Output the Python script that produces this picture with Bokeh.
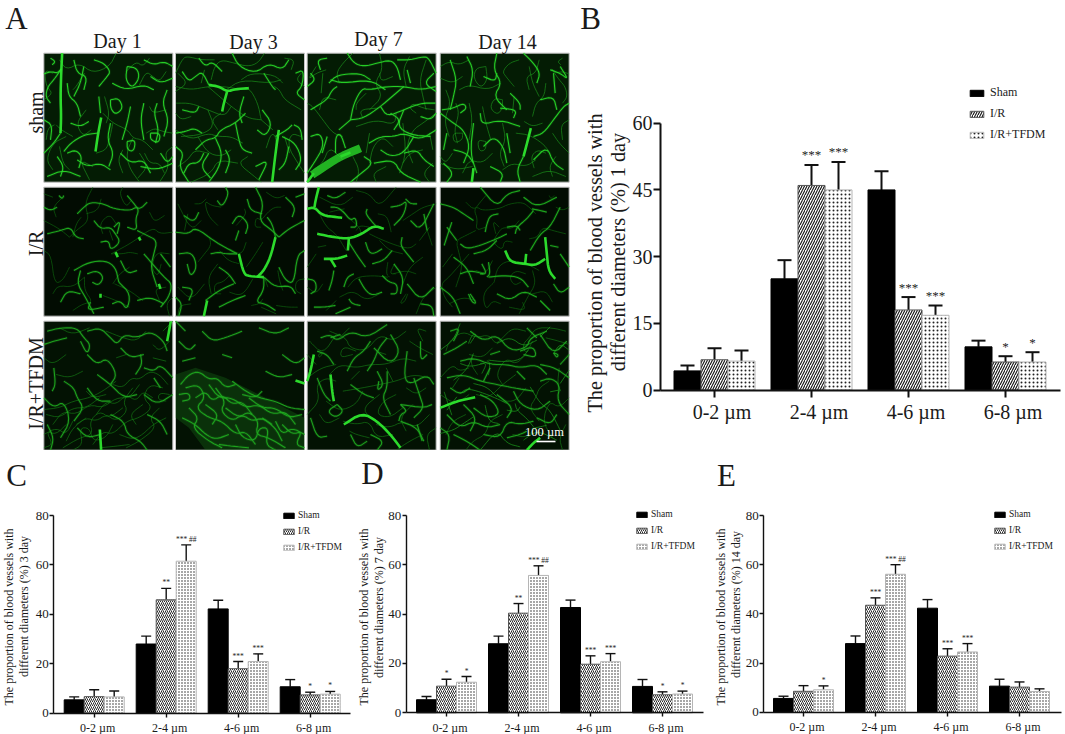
import math
from bokeh.plotting import figure
from bokeh.layouts import row, column
from bokeh.models import (ColumnDataSource, Range1d, LinearAxis, FixedTicker, Whisker, TeeHead,
                          Label, Legend, LegendItem)
from bokeh.core.properties import value
from bokeh.embed import file_html
from bokeh.resources import INLINE

FONT = "Liberation Serif"
GROUPS = ["0-2 µm", "2-4 µm", "4-6 µm", "6-8 µm"]
SERIES = ["Sham", "I/R", "I/R+TFDM"]
DAYS = ["Day 1", "Day 3", "Day 7", "Day 14"]
ROWS = ["sham", "I/R", "I/R+TFDM"]

# ---- bar values: mean and top of error bar, one list per series per chart
B_SHAM = [4.3, 25.0, 45.0, 9.7];   B_SHAM_TOP = [5.5, 29.2, 49.2, 11.1]
B_IR = [6.8, 46.0, 18.0, 6.3];     B_IR_TOP = [9.4, 50.6, 20.9, 7.6]
B_TF = [6.5, 45.0, 16.8, 6.3];     B_TF_TOP = [8.9, 51.3, 19.0, 8.5]
B_SIG_IR = ["", "***", "***", "*"]; B_SIG_TF = ["", "***", "***", "*"]

C_SHAM = [5.4, 28.0, 42.2, 10.7];  C_SHAM_TOP = [6.6, 31.2, 45.7, 13.6]
C_IR = [6.7, 45.9, 18.0, 7.4];     C_IR_TOP = [9.5, 50.5, 20.9, 8.5]
C_TF = [6.6, 61.5, 20.9, 7.7];     C_TF_TOP = [9.0, 68.1, 24.0, 8.8]
C_SIG_IR = ["", "**", "***", "*"]; C_SIG_TF = ["", "*** ##", "***", "*"]

D_SHAM = [5.3, 28.0, 42.7, 10.7];  D_SHAM_TOP = [6.6, 31.1, 45.7, 13.5]
D_IR = [10.8, 40.4, 19.7, 7.3];    D_IR_TOP = [13.6, 44.3, 23.1, 8.5]
D_TF = [12.4, 55.7, 20.7, 7.6];    D_TF_TOP = [14.7, 59.6, 24.0, 8.8]
D_SIG_IR = ["*", "**", "***", "*"]; D_SIG_TF = ["*", "*** ##", "***", "*"]

E_SHAM = [5.6, 27.9, 42.3, 10.6];  E_SHAM_TOP = [6.5, 31.0, 45.8, 13.4]
E_IR = [8.5, 43.5, 22.8, 10.2];    E_IR_TOP = [10.8, 46.5, 25.8, 12.3]
E_TF = [9.1, 56.1, 24.5, 8.4];     E_TF_TOP = [10.7, 60.0, 27.9, 9.5]
E_SIG_IR = ["", "***", "***", ""]; E_SIG_TF = ["*", "*** ##", "***", ""]

# ---- traced vessels per micrograph: flat x,y lists in a 387 x 387 image space
V11_THICK = [[55,0,52,60,50,130,52,190,50,240],[172,193,163,240,155,295]]
V11 = [[0,62,22,55,40,60,52,48],[52,48,30,80,12,100,5,130,20,150],[20,15,35,25,25,35],
 [150,20,180,30,200,55,190,70,165,100],[250,40,280,45,287,75,265,105,245,80,250,40],
 [300,20,330,35,360,25,387,40],[200,140,225,135,238,165,215,185,200,165,200,140],[165,130,170,180],
 [340,150,330,180,345,230,335,270],[300,150,290,200,300,260],[260,160,250,210,235,260],
 [320,240,350,240,345,270,320,260,320,240],[250,265,275,260,270,295,250,290,250,265],
 [0,300,30,270,50,240],[40,310,60,340,50,370],[100,320,130,340,170,330,200,350],
 [230,300,260,330,300,320,320,360],[10,370,60,350,110,370],[350,300,370,330,387,310],
 [70,90,75,130,100,150,110,190],[120,40,110,90,90,130],[370,110,355,150,375,200,360,250],
 [200,210,190,260,210,300,195,340],[160,240,120,245,80,270,60,295],[90,20,100,60,130,70,120,110],
 [205,90,245,110,300,95,330,110],[0,200,25,215,20,260],[80,210,110,220,135,205],
 [70,300,95,290,115,310,105,345],[290,340,340,350,387,330],[320,70,350,90,387,75]]

V12_THICK = [[155,115,145,150,140,175],[310,230,300,300,290,387],[100,95,130,100,155,115,180,108,220,105]]
V12 = [[20,55,40,85,60,70,80,55,100,95],[70,15,90,40,110,25,140,55],[170,0,190,40,240,60,280,30,320,50,340,20],
 [360,60,385,50,380,100,360,120,387,140],[265,60,290,100,300,110],[20,170,60,180,70,160],
 [0,240,30,235,55,225,80,240],[0,280,25,300,10,340,40,387],[60,290,90,260,120,255,135,230,180,210,210,180],
 [120,255,140,300,130,345,100,387],[180,210,190,260,200,290,230,300],[205,130,190,180,200,210],
 [150,290,165,320,150,360],[320,250,360,270,380,320,360,350],[300,250,335,230,350,215],
 [340,280,330,330,310,350],[240,340,280,320,250,380],[25,360,40,330,70,330,85,300],
 [260,170,290,210,270,250,245,230],[100,300,75,340,105,375],[355,215,375,225,380,260]]

V13_WIDE = [[15,365,60,335,100,310,160,285]]
V13_THICK = [[0,387,20,360],[100,310,130,298]]
V13 = [[60,15,30,20,40,50],[120,0,140,30,170,40,210,30,250,20,270,40,280,80],[270,20,310,20,350,10,365,15,387,60],
 [65,90,90,65,160,60,190,80],[70,80,105,90,190,80,235,110],[10,170,60,140,75,110,90,100],
 [130,200,140,150,165,105,185,110,240,100,290,100,340,110,387,100],[130,200,170,195,220,160,255,130,290,100],
 [95,230,130,200],[220,160,240,190,290,170,340,150,385,150],[290,170,270,220,310,245,370,250],
 [185,270,220,250,260,250,290,240,340,260,387,230],[115,285,100,240,85,250,85,300],
 [170,310,200,330,150,370,130,387],[200,330,260,320,280,360,340,387],[290,300,330,290,350,320,380,340],
 [10,250,40,240,50,280,20,330,0,360],[250,180,280,200,260,230],[220,290,250,310,290,300,320,250],
 [340,190,370,200,387,180],[380,60,350,90,387,115],[0,100,25,80,10,60],[60,250,45,300],[300,50,310,90]]

V14_THICK = [[272,225,262,265,250,310],[95,387,100,345]]
V14 = [[30,20,50,80,40,130,30,170],[80,10,100,50,90,100],[130,70,165,85,170,60],
 [170,0,160,50,185,90,160,130,200,170],[250,0,280,30,300,60,290,90],[330,50,360,60,385,80,360,40],
 [5,170,40,165,70,150,80,165,60,180],[0,180,40,210,70,230,90,280,70,330],[100,210,90,300,110,360],
 [120,180,125,215,180,200,240,220],[180,165,230,170,220,195],[210,120,240,150,240,170],
 [40,290,80,300,100,330],[250,310,230,350,240,387],[280,250,310,240,340,200,370,160,387,150],
 [130,280,160,250,190,280,200,330],[280,320,320,280,340,330,370,350],[10,330,40,360,20,387],
 [150,340,190,360,180,387],[340,60,345,120],[300,140,340,130,350,170],[200,240,210,300],[20,240,10,290]]

V21_THICK = [[215,195,222,210],[170,320,170,332],[345,290,350,305],[285,150,290,160]]
V21 = [[45,25,55,35,60,25],[100,80,120,60,140,45,180,50,210,65,260,70,275,60,290,65,310,45],
 [250,25,275,55,285,70,275,95,280,130,250,120],[150,100,170,125,200,120,215,140,230,165,200,190,195,160,170,165],
 [230,220,250,260,280,250],[280,130,310,145,340,160,330,200,320,240,340,300],
 [10,140,50,130,80,120,95,150,120,155],[210,120,230,100,220,140],[90,250,135,225,185,220,215,240,225,285],
 [110,250,100,290,125,330,150,380],[130,260,160,250,180,270,165,295,145,285],[50,345,70,310,110,320],
 [225,285,260,320,250,370,230,340,205,350],[300,200,360,270,385,290,375,330,350,360],[350,200,380,240],
 [0,60,20,70,40,60],[140,345,130,370,180,360],[280,340,320,330,360,350]]

V22_THICK = [[85,387,95,340],[190,200,205,260,220,267,265,270],[300,150,285,210,265,250,245,270]]
V22 = [[0,135,40,140,60,120,120,165,185,200],[25,85,55,105,70,75],[10,200,50,195,65,240,45,270,35,230],
 [105,200,130,195,150,200,185,200],[125,40,140,60,160,20,150,0],[215,35,225,70,260,80],
 [170,110,190,80,220,110,210,140],[240,0,265,50,250,100,290,130,310,150],[310,150,340,125,387,100],
 [300,150,290,110,275,90],[330,30,360,60,350,90],[387,190,365,205,355,290,330,280,310,240],
 [265,270,265,310,240,345,270,350,300,370],[265,270,300,300,345,295,360,320],[175,290,130,310,90,340],
 [20,300,55,305,40,340],[130,240,160,260,180,290],[180,160,190,130],[360,30,387,20],[0,330,20,350,10,387],
 [130,360,170,340,210,325]]

V23_THICK = [[35,0,25,40,22,60],[0,65,22,60,45,85,90,90,105,92],[30,140,80,150,125,155,165,140,200,115,230,125],
 [125,155,122,190],[50,215,90,215,120,205],[70,215,85,240]]
V23 = [[180,65,175,80,200,110,205,115],[70,60,90,60,110,75,130,100,145,90,150,120,130,120],[60,25,85,35,115,15],
 [295,35,310,50,330,50],[250,60,280,55,300,40,290,85,260,115],[20,360,50,360,85,355],
 [0,275,25,280,28,310,10,320],[125,165,150,205,175,240],[175,165,185,195,200,200,225,185],
 [285,150,280,175,300,200,320,225],[195,230,230,220,255,190],[225,265,245,285,270,290,270,320,250,320],
 [110,300,120,270,140,260],[65,310,75,280,80,250],[155,275,175,310,195,325,225,315],[125,335,135,350,160,355],
 [300,290,340,340,380,300],[340,350,375,355,380,387],[350,80,360,130],[310,100,340,130,380,50],
 [260,230,290,270,280,320],[85,380,130,360]]

V24_THICK = [[315,150,320,200,325,250,345,275],[195,190,210,225,255,230,285,235,315,215],[255,230,258,200]]
V24 = [[0,50,40,60,70,80,100,100],[135,135,140,110,150,85,175,80],[35,105,20,150,12,175],
 [60,170,80,185,120,175,170,155,200,140],[100,200,140,190,170,160],[275,65,300,70,320,75],
 [280,70,260,95,230,120,225,140],[200,120,230,115,240,130],[330,175,355,180],[125,230,140,260,120,260],
 [145,225,150,260,140,270],[145,270,190,265,240,270,265,300],[60,260,90,250,130,260],
 [90,320,110,350,95,345,85,320],[40,210,80,240,100,290],[170,320,210,340,250,310,290,330],
 [340,290,360,320,387,300],[0,300,40,330,60,380],[270,190,300,140,330,120,360,60],[120,0,170,60,200,20,240,10],
 [250,30,290,60,350,30],[360,200,387,240],[20,120,50,160],[300,340,330,370]]

V31_THICK = [[172,387,168,325],[381,0,370,60]]
V31 = [[10,30,50,20,100,20,120,50,140,70,130,100,110,60],[0,70,30,60,70,50],
 [130,30,170,20,200,50,220,70,240,40,280,50,320,30,360,60,370,90],[30,140,35,190,25,210],
 [60,180,90,200,100,230,120,260,90,300],[130,100,160,130,190,110,220,160,200,190],[290,100,295,130,275,160],
 [160,160,200,190,240,230,280,220],[300,140,330,150,350,130,387,170],[0,230,30,260,60,240,80,300,50,350],
 [100,320,130,350,170,340],[200,280,240,300,250,340,290,360,310,387],[300,220,340,250,387,220],
 [310,280,350,300,370,340],[10,310,30,350,20,387],[230,80,260,110,300,100],[130,200,160,240,200,240],[350,200,330,170]]

V32_THICK = [[360,178,387,187]]
V32 = [[15,190,40,160,70,150,100,175,125,170,150,200,180,190],[10,220,40,215,45,235,20,240],
 [60,230,90,210,110,240,140,220,170,250,200,240,230,280],[120,200,150,240,135,270,170,300,200,280,230,300,260,290,290,310],
 [20,290,60,310,90,340,120,355,160,340],[180,310,200,350,240,360,250,320,280,320,270,370,300,387],
 [220,230,260,260,300,260,340,290,380,280],[320,310,350,340,380,330,360,370,387,380],[90,250,130,280,110,310],
 [200,220,240,230,260,210],[260,290,300,320,320,360],[130,370,170,375,220,380],[10,60,40,90,60,70],
 [80,30,110,60,150,50,200,30],[20,120,60,110],[140,100,170,110],[250,20,300,40,340,20],[320,100,360,130,387,110],
 [270,150,310,170,350,160],[0,0,30,30],
 [30,200,70,190,90,230,60,260,100,290,140,300,180,340,210,330,240,370],
 [100,190,130,230,170,230,210,260,250,250,290,280,330,270,360,310],
 [40,260,70,290,50,320,100,360,140,380],[150,260,190,290,220,270,250,300,240,340,280,350,330,380],
 [300,300,320,340,350,320,387,340],[170,180,210,210,250,230,300,240,340,260,387,265]]
V32_BRIGHT_X = [0,60,150,250,387,387,90,40,0]
V32_BRIGHT_Y = [160,140,170,220,290,387,387,320,290]

V33_THICK = [[110,310,165,275,210,300,250,340,280,380],[70,160,75,210,80,240],[20,100,10,150,0,180]]
V33 = [[280,250,300,270,280,280,275,300],[40,50,70,40,90,60,130,30,180,50,240,10],[70,50,100,40],
 [190,60,170,90,140,110,120,150],[240,50,215,80,200,120,180,150],[30,90,60,100,80,130],
 [210,150,230,190,210,210,215,180],[240,150,240,200,225,230,250,280],[300,90,290,170,310,190,360,160,380,190],
 [340,60,340,120,360,100],[250,40,280,90,250,130,200,80],[90,250,60,270,85,290,110,270,90,250],
 [30,170,50,220,70,240],[320,170,340,230,350,260,320,290],[280,250,350,260,375,250],[280,300,330,320,350,360],
 [130,190,170,220,200,230],[10,290,30,350,60,345],[130,340,150,380,180,360],[190,340,230,360,210,387],[330,310,345,360]]

V34_THICK = [[0,260,50,240,105,228],[260,387,280,365,300,350]]
V34 = [[90,30,130,60,170,40,210,90,260,80,270,50,320,30],[300,40,340,100,380,60],[240,90,280,75,290,110,250,100],
 [340,95,355,100,350,110,340,95],[20,170,70,160,120,180,170,190,220,200,280,210],
 [60,120,100,110,150,130,200,130,240,140,290,130,320,160],[120,220,160,240,180,280,140,290,100,260],
 [30,200,60,220,90,200],[20,280,60,320,100,300,140,320,180,310],[40,340,80,360,120,387],
 [130,340,180,350,200,300,240,310,280,300],[220,210,240,250,290,270,330,240],
 [300,180,330,170,360,190,350,240,387,280],[230,150,255,175],[290,290,330,310,350,280],[10,100,50,80,80,60],
 [180,90,150,100],[360,130,387,100],[0,320,30,340,20,387],[150,140,130,180],[200,350,240,340,260,330],
 [300,130,345,140,387,170],[70,250,110,290,90,330],[170,220,220,260,200,290],[30,30,60,20,40,60],[290,50,260,20]]

PANEL_THICK = [[V11_THICK,V12_THICK,V13_THICK,V14_THICK],[V21_THICK,V22_THICK,V23_THICK,V24_THICK],[V31_THICK,V32_THICK,V33_THICK,V34_THICK]]
PANEL_THIN = [[V11,V12,V13,V14],[V21,V22,V23,V24],[V31,V32,V33,V34]]


def label(p, origin, x, y, text, size, angle=0.0, color="#1a1a1a"):
    left, top, h = origin
    p.add_layout(Label(x=x - left, y=h - (y - top), x_units="screen", y_units="screen", text=text,
                       text_font=FONT, text_font_size=f"{size}px", text_color=color,
                       text_align="center", text_baseline="middle", angle=angle, angle_units="rad"))


def rounded(ln):
    """Corner-cut a traced polyline so the vessels read as curves."""
    pts = list(zip(ln[0::2], ln[1::2]))
    for _ in range(2):
        if len(pts) < 3:
            break
        out = [pts[0]]
        for a, b in zip(pts[:-1], pts[1:]):
            out.append((0.75 * a[0] + 0.25 * b[0], 0.75 * a[1] + 0.25 * b[1]))
            out.append((0.25 * a[0] + 0.75 * b[0], 0.25 * a[1] + 0.75 * b[1]))
        out.append(pts[-1])
        pts = out
    return pts


# ------------------------------------------------------------------ panel A
A_W, A_H = 575, 450
pa = figure(frame_width=A_W, frame_height=A_H, x_range=Range1d(0, A_W * 3), y_range=Range1d(A_H * 3, 0),
            x_axis_location=None, y_axis_location=None, toolbar_location=None, output_backend="svg",
            min_border_left=0, min_border_right=0, min_border_top=0, min_border_bottom=0,
            outline_line_color=None)
pa.grid.visible = False
COL_X = [130, 525, 920, 1319]
ROW_Y = [158, 560, 962]
ROW_BG = ["#041c04", "#020c02", "#031203"]
ROW_BRIGHT = ["#27d627", "#1fb01f", "#1fa81f"]
ROW_FAINT = ["#1c9a1c", "#0f6a0f", "#158015"]
SIZE = 387
for i, y0 in enumerate(ROW_Y):
    for j, x0 in enumerate(COL_X):
        cx = x0 + SIZE / 2
        cy = y0 + SIZE / 2
        pa.rect([cx], [cy], SIZE, SIZE, fill_color=ROW_BG[i], line_color="#c4c4c4", line_width=1)
        if i == 2 and j == 1:
            pa.patch([x0 + v for v in V32_BRIGHT_X], [y0 + v for v in V32_BRIGHT_Y],
                     fill_color="#1a7a1a", fill_alpha=0.3, line_color=None)
        else:
            # fainter capillary bed behind the main vessels: the neighbour's tracing, mirrored
            faint = [rounded(ln) for ln in PANEL_THIN[i][(j + 1) % 4]]
            pa.multi_line([[x0 + SIZE - q[0] for q in ln] for ln in faint],
                          [[y0 + q[1] for q in ln] for ln in faint],
                          line_color=ROW_FAINT[i], line_width=0.9, line_alpha=0.7)
        if i == 2 and j == 3:
            faint = [rounded(ln) for ln in V24]
            pa.multi_line([[x0 + q[0] for q in ln] for ln in faint],
                          [[y0 + SIZE - q[1] for q in ln] for ln in faint],
                          line_color="#1c9a1c", line_width=0.9, line_alpha=0.8)
        thin = [rounded(ln) for ln in PANEL_THIN[i][j]]
        thick = [rounded(ln) for ln in PANEL_THICK[i][j]]
        xs = [[x0 + q[0] for q in ln] for ln in thin]
        ys = [[y0 + q[1] for q in ln] for ln in thin]
        xt = [[x0 + q[0] for q in ln] for ln in thick]
        yt = [[y0 + q[1] for q in ln] for ln in thick]
        pa.multi_line(xs, ys, line_color="#2cb82c", line_width=3.0, line_alpha=0.14)
        pa.multi_line(xs, ys, line_color=ROW_BRIGHT[i], line_width=1.1, line_alpha=0.95)
        pa.multi_line(xt, yt, line_color="#2ee62e", line_width=2.6, line_alpha=0.95)
        if i == 0 and j == 2:
            wide = [rounded(ln) for ln in V13_WIDE]
            pa.multi_line([[x0 + q[0] for q in ln] for ln in wide], [[y0 + q[1] for q in ln] for ln in wide],
                          line_color="#2ad82a", line_width=8, line_alpha=0.8)

FA = (0, 0, A_H)
label(pa, FA, 16, 18, "A", 31)
for name, x, y in zip(DAYS, [117, 253, 378, 507], [40, 41, 38, 41]):
    label(pa, FA, x, y, name, 20)
for name, y in zip(ROWS, [112, 243, 383]):
    label(pa, FA, 35, y, name, 20, math.pi / 2)
label(pa, FA, 544, 431.5, "100 µm", 12.5, color="white")
pa.line([536 * 3, 555 * 3], [441 * 3, 441 * 3], line_color="white", line_width=1.6)


# ------------------------------------------------------------------ bar charts
def chart(fig, frame, first, spacing, bar_px, yticks, data, tops, sigs, letter, title, st, leg, shift):
    fl, ft, fw, fh = fig
    l, r, t, b = frame
    k = (b - t) / yticks[-1]
    x0 = (fl - first) / spacing
    x1 = (fl + fw - first) / spacing
    p = figure(frame_width=fw, frame_height=fh, x_axis_location=None, y_axis_location=None,
               toolbar_location=None, output_backend="svg", outline_line_color=None,
               min_border_left=0, min_border_right=0, min_border_top=0, min_border_bottom=0,
               x_range=Range1d(x0, x1),
               y_range=Range1d(-(ft + fh - b) / k, yticks[-1] + (t - ft) / k))
    p.grid.visible = False
    bw = bar_px / spacing
    s = shift / spacing
    p.extra_x_ranges = {"lab": Range1d(x0 - s, x1 - s)}
    lw = st["lw"]
    base = LinearAxis(ticker=FixedTicker(ticks=[0, 1, 2, 3]), major_label_overrides={i: "" for i in range(4)},
                      major_label_text_font_size="0px", major_tick_out=st["tick"], major_tick_in=0,
                      minor_tick_line_color=None, axis_line_width=lw, major_tick_line_width=lw,
                      axis_line_color="#111", major_tick_line_color="#111", fixed_location=0,
                      bounds=((l - first) / spacing, (r - first) / spacing))
    p.add_layout(base, "below")
    labs = LinearAxis(x_range_name="lab", ticker=FixedTicker(ticks=[0, 1, 2, 3]),
                      major_label_overrides={i: g for i, g in enumerate(GROUPS)},
                      major_label_text_font=FONT, major_label_text_font_size=st["xt"],
                      major_label_text_color="#1a1a1a", major_label_standoff=st["xs"],
                      axis_line_color=None, major_tick_line_color=None, minor_tick_line_color=None,
                      major_tick_out=0, major_tick_in=0, fixed_location=0)
    p.add_layout(labs, "below")
    ya = LinearAxis(ticker=FixedTicker(ticks=yticks), major_label_text_font=FONT,
                    major_label_text_font_size=st["yt"], major_label_text_color="#1a1a1a",
                    major_label_standoff=st["ys"], major_tick_out=st["tick"], major_tick_in=0,
                    minor_tick_line_color=None, axis_line_width=lw, major_tick_line_width=lw,
                    axis_line_color="#111", major_tick_line_color="#111",
                    fixed_location=(l - first) / spacing, bounds=(yticks[0], yticks[-1]))
    p.add_layout(ya, "left")

    styles = [dict(fill_color="black", line_color="black"),
              dict(fill_color="white", line_color="#555", hatch_pattern="right_diagonal_line",
                   hatch_color="#111", hatch_scale=st["hs"], hatch_weight=st["hw"]),
              dict(fill_color="white", line_color="#b5b5b5", hatch_pattern="dot",
                   hatch_color="#222", hatch_scale=st["ds"], hatch_weight=st["dw"])]
    rends = []
    for c in range(3):
        xs = [i + (c - 1) * bw for i in range(4)]
        src = ColumnDataSource(dict(x=xs, v=data[c], up=tops[c], sig=sigs[c] if sigs[c] else [""] * 4))
        p.add_layout(Whisker(source=src, base="x", lower="v", upper="up", line_color="#111", line_width=lw,
                             upper_head=TeeHead(size=st["cap"], line_color="#111", line_width=lw),
                             lower_head=None, level="underlay"))
        rends.append(p.vbar(x="x", top="v", bottom=0, width=bw, source=src, **styles[c]))
        if sigs[c]:
            p.text(x="x", y="up", text="sig", source=src, text_font=value(FONT),
                   text_font_size=st["star"], text_align="center", text_baseline="middle",
                   text_color="#222", y_offset=st["sy"])
    sx, y0, dy, gw, gh, rowh = leg
    bottom_ref = y0 + 2 * dy + rowh / 2
    p.add_layout(Legend(items=[LegendItem(label=value(n), renderers=[rr]) for n, rr in zip(SERIES, rends)],
                        location=(sx - fl, ft + fh - bottom_ref), orientation="vertical", padding=0, margin=0,
                        spacing=dy - rowh, glyph_width=gw, glyph_height=gh, label_height=rowh,
                        label_standoff=st["ls"], label_text_font=FONT, label_text_font_size=st["lt"],
                        label_text_color="#222", border_line_color=None, background_fill_alpha=0),
                 "center")
    F = (fl, ft, fh)
    label(p, F, letter[1], letter[2], letter[0], 31)
    for txt, x, y, size in title:
        label(p, F, x, y, txt, size, math.pi / 2)
    return p


BIG = dict(lw=2, tick=7, xt="20px", yt="20px", xs=11, ys=1, hs=5, hw=1.1, ds=4, dw=0.9, cap=14,
           star="13px", sy=-10, ls=5, lt="12px")
SMALL = dict(lw=1.4, tick=4, xt="12px", yt="13px", xs=8, ys=1, hs=4, hw=0.9, ds=3, dw=0.8, cap=10,
             star="7.5px", sy=-5.5, ls=3, lt="9.5px")

pb = chart((575, 0, 490, 450), (660, 1060, 122.7, 389.5), 714, 97, 27, [0, 15, 30, 45, 60],
           [B_SHAM, B_IR, B_TF], [B_SHAM_TOP, B_IR_TOP, B_TF_TOP], [None, B_SIG_IR, B_SIG_TF],
           ("B", 590, 18),
           [("The proportion of  blood vessels with", 594.5, 260, 20.3),
            ("different diameters (%) 1 day", 617, 251.5, 20.3)], BIG,
           (968, 92.7, 21, 17, 8, 15), 7.5)
pc = chart((0, 450, 358, 284), (53.3, 350, 515, 712.7), 93.7, 72, 20, [0, 20, 40, 60, 80],
           [C_SHAM, C_IR, C_TF], [C_SHAM_TOP, C_IR_TOP, C_TF_TOP], [None, C_SIG_IR, C_SIG_TF],
           ("C", 16, 475),
           [("The proportion of  blood vessels with", 8.5, 615, 12),
            ("different diameters (%) 3 day", 23, 606, 12)], SMALL,
           (282, 515, 16, 13, 7, 10), 3.5)
pd_ = chart((358, 450, 350, 284), (405.7, 703, 515, 712.3), 446, 72, 20, [0, 20, 40, 60, 80],
            [D_SHAM, D_IR, D_TF], [D_SHAM_TOP, D_IR_TOP, D_TF_TOP], [None, D_SIG_IR, D_SIG_TF],
            ("D", 372, 473),
            [("The proportion of  blood vessels with", 363, 615, 12),
             ("different diameters (%) 7 day", 378, 607, 12)], SMALL,
            (635, 514, 16, 13, 7, 10), 3.5)
pe = chart((708, 450, 357, 284), (763.3, 1061, 515, 711.7), 803, 72, 20, [0, 20, 40, 60, 80],
           [E_SHAM, E_IR, E_TF], [E_SHAM_TOP, E_IR_TOP, E_TF_TOP], [None, E_SIG_IR, E_SIG_TF],
           ("E", 726, 475),
           [("The proportion of  blood vessels with", 720, 615, 12),
            ("different diameters (%) 14 day", 735, 604, 12)], SMALL,
           (993, 514, 16, 13, 7, 10), 3.5)

layout = column(row(pa, pb, spacing=0), row(pc, pd_, pe, spacing=0), spacing=0)
open("out.html", "w").write(file_html(layout, INLINE))
